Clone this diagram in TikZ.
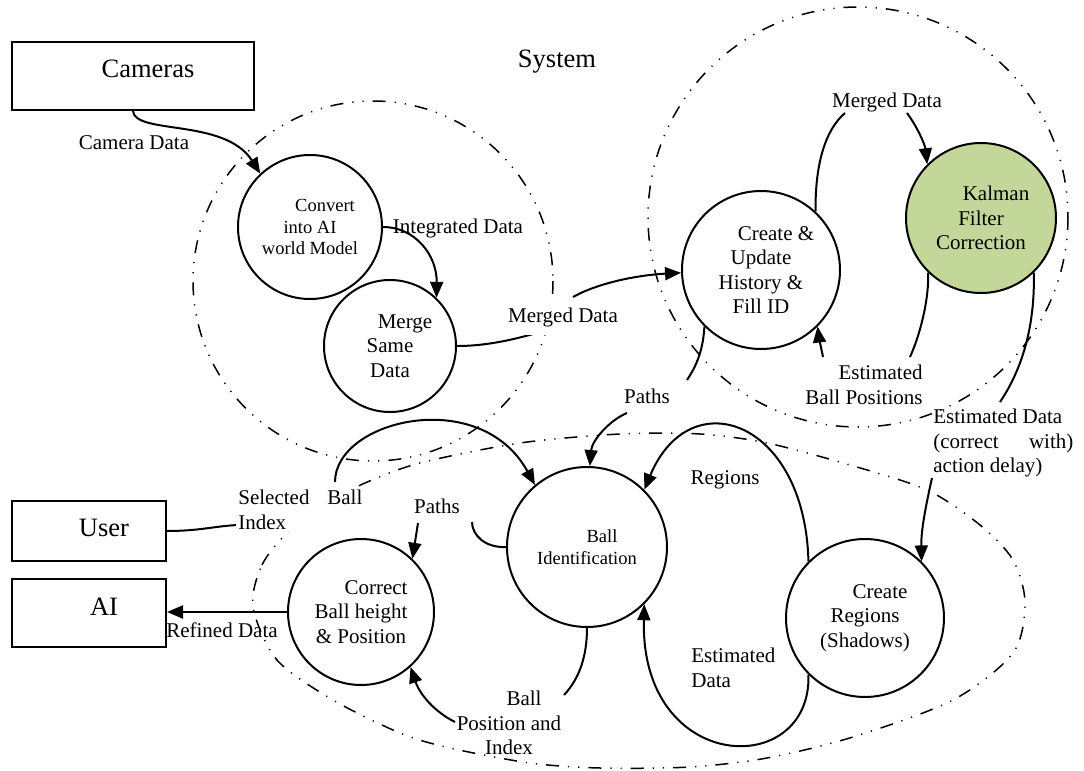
\documentclass[tikz,border=0pt]{standalone}
\usepackage{fontspec}
\setmainfont{Liberation Serif}
\usetikzlibrary{arrows.meta}
\definecolor{kalgreen}{RGB}{196,215,155}
\newcommand{\fbig}{\fontsize{13.25}{15.5}\selectfont}
\newcommand{\fmid}{\fontsize{10.5}{12.25}\selectfont}
\newcommand{\fsml}{\fontsize{9.25}{10.75}\selectfont}
\newcommand{\firstind}{\hspace*{15pt}}
\begin{document}
\begin{tikzpicture}[x=0.5pt,y=-0.5pt,
  proc/.style={circle,draw,line width=1pt,inner sep=0pt,align=center,font=\fmid},
  ext/.style={rectangle,draw,line width=1pt,inner sep=0pt,font=\fbig,text height=8.8pt},
  lbl/.style={font=\fmid,inner sep=0pt},
  flow/.style={line width=1pt,-{Triangle[length=8pt,width=6.5pt]}},
  plain/.style={line width=1pt},
  bound/.style={line width=0.75pt,dash pattern=on 6.5pt off 4.5pt on 0.6pt off 4.5pt on 0.6pt off 4.5pt}]
\useasboundingbox (0,0) rectangle (1084,771);

% system boundaries
\draw[bound] (373,281) circle[radius=180];
\draw[bound] (858,217) circle[radius=210];
\draw[bound] plot[smooth cycle] coordinates {(253,607) (262,565) (288,532) (325,504) (365,483) (420,463) (520,443) (620,434) (700,434) (767,443) (850,465) (927,490) (980,525) (1013,560) (1025,603) (1013,653) (953,700) (853,737) (767,758) (690,767) (600,768) (530,763) (450,748) (400,733) (333,700) (277,660)};

% external entities
\node[ext,minimum width=121pt,minimum height=34pt,text depth=7pt] (cam) at (133,76) {\firstind Cameras};
\node[ext,minimum width=77pt,minimum height=30pt,text depth=3.5pt] (user) at (89,531) {\firstind User};
\node[ext,minimum width=77pt,minimum height=34pt,text depth=6.5pt] (ai) at (89,613) {\firstind AI};
\node[lbl,font=\fbig] (sys) at (557,62) {System};

% processes
\node[proc,font=\fsml,minimum size=72pt] (conv) at (310,227) {\firstind Convert\\into AI\\world Model};
\node[proc,minimum size=66pt] (merge) at (390,346) {\firstind Merge\\Same\\Data};
\node[proc,minimum size=79pt] (create) at (761,270) {\firstind Create \&\\Update\\History \&\\Fill ID};
\node[proc,minimum size=75pt,fill=kalgreen] (kal) at (981,218) {\firstind Kalman\\Filter\\Correction};
\node[proc,font=\fsml,minimum size=80pt] (ballid) at (587,547) {\firstind Ball\\Identification};
\node[proc,minimum size=73pt] (corr) at (361,612) {\firstind Correct\\Ball height\\\& Position};
\node[proc,minimum size=79pt] (regions) at (865,618) {\firstind Create\\Regions\\(Shadows)};

% flows
\draw[flow] (cam.south) .. controls (135,135) and (225,118) .. (conv.133);
\draw[flow] (conv.east) .. controls (415,227) and (437,255) .. (merge.46);
\draw[flow] (merge.east) .. controls (490,346) and (520,338) .. (547,330)
            (573,297) .. controls (600,282) and (640,275) .. (create.182);
\draw[flow] (create.47) .. controls (815,165) and (825,130) .. (845,113)
            (907,113) .. controls (918,128) and (925,145) .. (kal.135);
\draw[flow] (kal.226) .. controls (929,300) and (920,335) .. (910,357)
            (823,357) .. controls (821,347) and (819,338) .. (create.-45);
\draw[flow] (kal.-46) .. controls (1035,320) and (1025,365) .. (1000,402)
            (932,478) .. controls (926,505) and (921,530) .. (regions.45);
\draw[flow] (create.225) .. controls (703,350) and (697,365) .. (687,380)
            (627,413) .. controls (610,420) and (592,440) .. (ballid.88);
\draw[flow] (user.east) .. controls (200,531) and (215,526) .. (238,525)
            (335,482) .. controls (335,420) and (480,385) .. (ballid.130);
\draw[flow] (ballid.west) .. controls (485,548) and (472,535) .. (472,522)
            (418,523) -- (corr.46);
\draw[flow] (corr.west) -- (corr.west -| ai.east);
\draw[flow] (ballid.south) .. controls (587,655) and (580,678) .. (564,695)
            (455,722) .. controls (435,712) and (420,695) .. (corr.-48);
\draw[flow] (regions.135) .. controls (805,420) and (690,380) .. (ballid.45);
\draw[flow] (regions.225) .. controls (812,780) and (640,775) .. (ballid.-45);

% flow labels
\node[lbl] (lcam) at (134,143) {Camera Data};
\node[lbl] (lint) at (458,228) {Integrated Data};
\node[lbl,fill=white,inner ysep=4pt,inner xsep=1pt] (lmergeA) at (563,317) {Merged Data};
\node[lbl] (lmergeB) at (887,102) {Merged Data};
\node[lbl,align=right,anchor=north east] (lebp) at (923,365) {Estimated\\Ball Positions};
\node[lbl,align=left,anchor=north west] (led) at (933,409) {Estimated Data\\\makebox[70pt][s]{(correct with)}\\action delay)};
\node[lbl] (lpathsA) at (647,396) {Paths};
\node[lbl,align=left,anchor=north west,fill=white,inner sep=1pt] (lsel) at (236,488) {\makebox[62pt][s]{Selected Ball}\\Index};
\node[lbl] (lpathsB) at (437,506) {Paths};
\node[lbl] (lref) at (222,630) {Refined Data};
\node[lbl,align=center,anchor=north] (lbpi) at (509,691) {\firstind Ball\\Position and\\Index};
\node[lbl] (lreg) at (725,480) {Regions};
\node[lbl,align=left,anchor=north west] (lest) at (691,648) {Estimated\\Data};
\end{tikzpicture}
\end{document}
